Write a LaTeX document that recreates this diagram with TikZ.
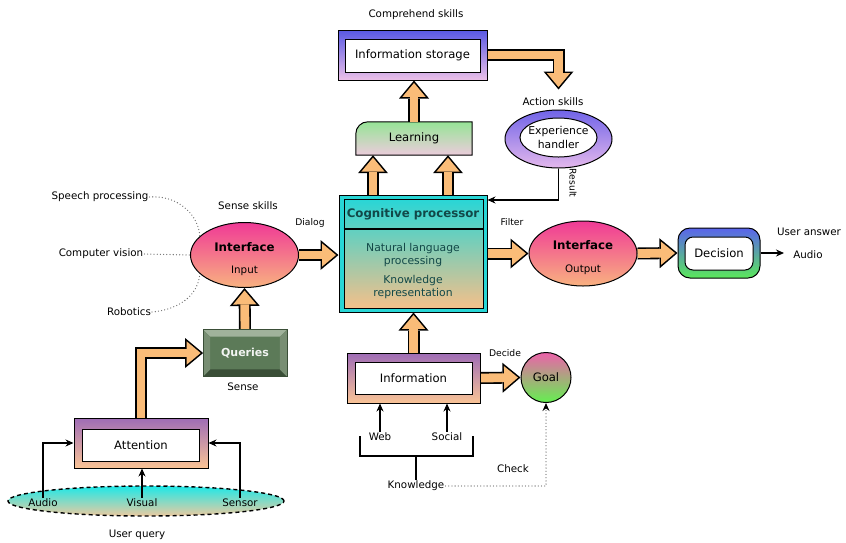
\documentclass[tikz,border=0pt]{standalone}
\usepackage{fontspec}
\setmainfont{DejaVu Sans}
\usetikzlibrary{arrows.meta,calc,shapes.geometric}

\pgfdeclarelayer{background}
\pgfsetlayers{background,main}

\definecolor{fatfill}{RGB}{250,188,120}
\definecolor{storetop}{RGB}{88,88,228}
\definecolor{storebot}{RGB}{236,192,232}
\definecolor{learntop}{RGB}{150,228,150}
\definecolor{learnbot}{RGB}{236,204,220}
\definecolor{exptop}{RGB}{112,100,232}
\definecolor{expbot}{RGB}{228,184,236}
\definecolor{cogcyan}{RGB}{40,214,214}
\definecolor{cogbot}{RGB}{244,192,138}
\definecolor{cogtext}{RGB}{18,72,72}
\definecolor{ifacetop}{RGB}{240,58,150}
\definecolor{ifacebot}{RGB}{248,178,128}
\definecolor{boxtop}{RGB}{158,108,182}
\definecolor{boxbot}{RGB}{250,196,150}
\definecolor{querytop}{RGB}{30,232,232}
\definecolor{querybot}{RGB}{236,202,160}
\definecolor{dectop}{RGB}{90,100,236}
\definecolor{decbot}{RGB}{90,232,90}
\definecolor{goaltop}{RGB}{236,98,170}
\definecolor{goalbot}{RGB}{100,240,80}
\definecolor{qface}{RGB}{92,122,88}
\definecolor{qlight}{RGB}{160,178,155}
\definecolor{qdark}{RGB}{58,78,55}
\definecolor{qside}{RGB}{120,142,115}
\definecolor{dotgray}{RGB}{110,110,110}

\newcommand{\tagfont}{\fontsize{10.3}{12}\selectfont}
\newcommand{\smalltagfont}{\fontsize{9.2}{11}\selectfont}
\newcommand{\boxfont}{\fontsize{11.6}{13.5}\selectfont}
\newcommand{\cogfont}{\fontsize{10.8}{13.5}\selectfont}
\newcommand{\headfont}{\bfseries\fontsize{11.8}{14}\selectfont}

\tikzstyle{tag}=[inner sep=1pt, font=\tagfont]
\tikzstyle{small tag}=[inner sep=1pt, font=\smalltagfont]
\tikzstyle{outer box}=[rectangle, draw, line width=1pt, inner sep=0pt]
\tikzstyle{inner box}=[rectangle, draw, line width=1pt, fill=white, inner sep=0pt, font=\boxfont]
\tikzstyle{oval}=[ellipse, draw, line width=1pt, inner sep=0pt]
\tikzstyle{conn}=[draw, line width=1.3pt, -{Stealth[length=8pt,width=7pt]}]
\tikzstyle{dots}=[draw=dotgray, line width=1.3pt, dash pattern=on 0pt off 3.2pt, line cap=round]
\tikzstyle{fat}=[draw=fatfill, line width=8.8pt, line join=miter, shorten >=2.5pt,
  -{Triangle[length=13.9pt,width=23.2pt,line width=0pt]},
  preaction={draw=black, line width=12pt, shorten >=0pt,
    -{Triangle[length=18pt,width=30pt,line width=0pt]}}]

\begin{document}
\begin{tikzpicture}[x=1pt,y=-1pt]
  \useasboundingbox (0,0) rectangle (846,542);

  % Comprehend and action skills on top
  \node[outer box, top color=storetop, bottom color=storebot, minimum width=149pt, minimum height=50pt] (storo) at (412.5,55) {};
  \node[inner box, minimum width=135pt, minimum height=33pt] (stor) at (412.5,55.5) {Information storage};
  \node[minimum width=116pt, minimum height=33pt, font=\boxfont] (learn) at (414,138.5) {Learning};
  \node[oval, top color=exptop, bottom color=expbot, minimum width=107pt, minimum height=58pt] (expo) at (558.5,139) {};
  \node[oval, fill=white, minimum width=77pt, minimum height=39pt] (exp) at (558.5,137.5) {};
  \node[font=\cogfont, align=center, inner sep=0pt] (expt) at (exp) {Experience\\handler};

  % The cognitive processor
  \node[outer box, fill=cogcyan, minimum width=148pt, minimum height=117pt] (cogo) at (413,253.5) {};
  \node[outer box, top color=cogcyan, bottom color=cogbot, minimum width=139pt, minimum height=109pt] (cog) at (413.5,253.5) {};
  \node[font=\headfont, text=cogtext] (cogt) at (413,214) {Cognitive processor};
  \coordinate (div) at (413,229);
  \draw[line width=1.2pt] (cog.west |- div) -- (cog.east |- div);
  \node[font=\cogfont, text=cogtext, align=center] (nlp) at (413,255) {Natural language\\processing};
  \node[font=\cogfont, text=cogtext, align=center] (kr) at (413,287) {Knowledge\\representation};

  % Interfaces and decision
  \foreach \pos/\name/\sub in {{(244.5,255)/inp/Input}, {(583,253.5)/outp/Output}} {
    \node[oval, top color=ifacetop, bottom color=ifacebot, minimum width=108pt, minimum height=65pt] (\name) at \pos {};
    \node[font=\headfont] (\name t) at ([yshift=8pt]\name) {Interface};
    \node[tag] (\name s) at ([yshift=-16pt]\name) {\sub};
  }
  \node[rectangle, rounded corners=12pt, draw, line width=1pt, top color=dectop, bottom color=decbot, minimum width=82pt, minimum height=50pt] (deco) at (719,253) {};
  \node[rectangle, rounded corners=8pt, draw, line width=1pt, fill=white, minimum width=68pt, minimum height=33pt, font=\boxfont] (dec) at (719,253.5) {Decision};
  \coordinate (aend) at (784,253);

  % Queries button
  \node[rectangle, draw=qdark, line width=0.8pt, fill=qface, minimum width=83pt, minimum height=46pt] (qu) at (245,353) {};
  \fill[qlight] (qu.north west) -- (qu.north east) -- ($(qu.north east)+(-7,7)$) -- ($(qu.north west)+(7,7)$) -- cycle;
  \fill[qdark] (qu.south west) -- (qu.south east) -- ($(qu.south east)+(-7,-7)$) -- ($(qu.south west)+(7,-7)$) -- cycle;
  \fill[qside] (qu.north west) -- ($(qu.north west)+(7,7)$) -- ($(qu.south west)+(7,-7)$) -- (qu.south west) -- cycle;
  \fill[qside] (qu.north east) -- ($(qu.north east)+(-7,7)$) -- ($(qu.south east)+(-7,-7)$) -- (qu.south east) -- cycle;
  \draw[qdark, line width=0.8pt] (qu.north west) rectangle (qu.south east);
  \node[font=\bfseries\fontsize{11}{13}\selectfont, text=white!92!qface] (qut) at (qu) {Queries};

  % Attention, information and goal
  \node[outer box, top color=boxtop, bottom color=boxbot, minimum width=134pt, minimum height=50pt] (atto) at (141,443) {};
  \node[inner box, minimum width=117pt, minimum height=32pt] (att) at (141,445) {Attention};
  \node[outer box, top color=boxtop, bottom color=boxbot, minimum width=133pt, minimum height=50pt] (infoo) at (413.5,378) {};
  \node[inner box, minimum width=117pt, minimum height=32pt] (info) at (413.5,378) {Information};
  \node[circle, draw, line width=1pt, top color=goaltop, bottom color=goalbot, minimum size=50pt, inner sep=0pt, font=\boxfont] (goal) at (546,377.5) {Goal};
  \node[oval, dash pattern=on 4pt off 3pt, line width=1.4pt, top color=querytop, bottom color=querybot, minimum width=276pt, minimum height=30pt] (uq) at (146,501) {};

  % Then the labels
  \foreach \pos/\name/\lbl in {{(416,15)/comp/Comprehend skills}, {(553,102)/act/Action skills},
      {(248,206)/sens/Sense skills}, {(100,197)/speech/Speech processing}, {(101,254)/vision/Computer vision},
      {(129,312)/robot/Robotics}, {(243,387)/sense/Sense}, {(137,535)/uqt/User query},
      {(43,503)/aud/Audio}, {(142,503)/vis/Visual}, {(240,503)/sen/Sensor},
      {(809,232)/ans/User answer}, {(808,255)/aout/Audio}, {(380,437)/web/Web},
      {(447,437)/soc/Social}, {(416,486)/know/Knowledge}, {(513,469)/chk/Check}}
    \node[tag] (\name) at \pos {\lbl};
  \foreach \pos/\name/\lbl in {{(310,223)/dial/Dialog}, {(512,222)/filt/Filter}, {(505,353)/decide/Decide}}
    \node[small tag] (\name) at \pos {\lbl};
  \node[small tag, rotate=-90] (res) at (573,183) {Result};

  % Fat arrows and the learning box behind the nodes
  \begin{pgfonlayer}{background}
    \path[draw, line width=1pt, top color=learntop, bottom color=learnbot] (learn.south west) [rounded corners=12pt] -- (learn.north west) [sharp corners] -- (learn.north east) -- (learn.south east) -- cycle;
    \draw[fat] (learn.north) -- (learn.north |- storo.south);
    \foreach \dx in {-40,35}
      \draw[fat] ([xshift=\dx pt]cogo.north) -- ([xshift=\dx pt]cogo.north |- learn.south);
    \draw[fat] (storo.east) -| ([yshift=20pt]expo.north);
    \draw[fat] (inp.east) -- (inp.east -| cogo.west);
    \draw[fat] (qu.north) -- (inp.south);
    \draw[fat] (atto.north) |- (qu.west);
    \draw[fat] (cogo.east) -- (outp.west);
    \draw[fat] (outp.east) -- (deco.west);
    \draw[fat] (infoo.north) -- (infoo.north |- cogo.south);
    \draw[fat] (infoo.east) -- (goal.west);
  \end{pgfonlayer}

  % Thin connectors
  \draw[conn] (expo.south) |- ([yshift=53.5pt]cogo.east);
  \draw[conn] (deco.east) -- (aend);
  \draw[conn] (aud.north) |- (atto.west);
  \draw[conn] (vis.north) -- (vis.north |- atto.south);
  \draw[conn] (sen.north) |- (atto.east);
  \foreach \name in {web,soc}
    \draw[conn] (\name.north) -- (\name.north |- infoo.south);
  \coordinate (brk) at (416,456);
  \draw[line width=1.2pt] (360,436) |- (473,456) -- (473,436);
  \draw[line width=1.2pt] (know.north) -- (know.north |- brk);

  % Dotted links
  \draw[dots] (speech.east) to[out=5,in=95] (inp.157);
  \draw[dots] (vision.east) -- (inp.west);
  \draw[dots] (robot.east) to[out=5,in=-95] (inp.203);
  \draw[dots, -{Stealth[length=8pt,width=7pt,color=black]}] (know.east) -| (goal.south);
\end{tikzpicture}
\end{document}
